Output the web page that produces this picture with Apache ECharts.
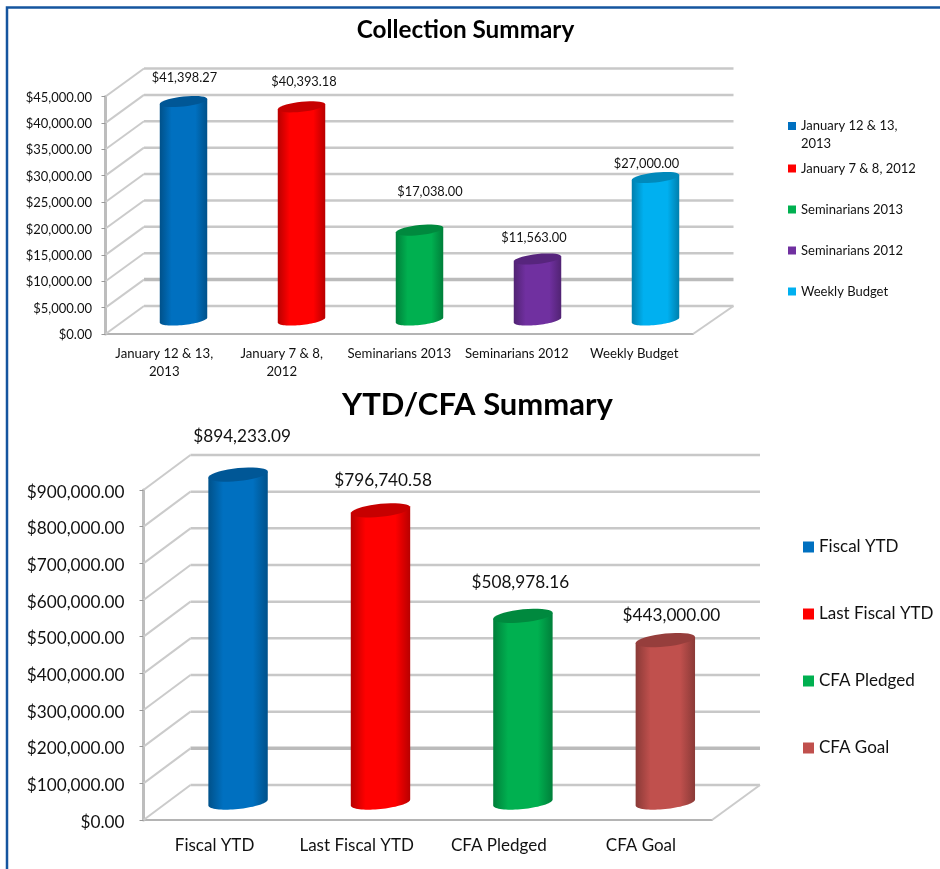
<!DOCTYPE html>
<html>
<head>
<meta charset="utf-8">
<title>Collection Summary</title>
<script src="https://cdn.jsdelivr.net/npm/echarts@6/dist/echarts.min.js"></script>
<style>
    html, body { margin: 0; padding: 0; background: #fff; }
    #main { width: 940px; height: 869px; }
</style>
</head>
<body>
<div id="main"></div>
<script>
// data
const collectionNames = ['January 12 & 13,\n2013', 'January 7 & 8,\n2012', 'Seminarians 2013', 'Seminarians 2012', 'Weekly Budget'];
const collectionLegend = ['January 12 & 13,\n2013', 'January 7 & 8, 2012', 'Seminarians 2013', 'Seminarians 2012', 'Weekly Budget'];
const collectionValues = [41398.27, 40393.18, 17038, 11563, 27000];
const collectionColors = ['#0070c0', '#ff0000', '#00b050', '#7030a0', '#00b0f0'];
const collectionTicks = [0, 5000, 10000, 15000, 20000, 25000, 30000, 35000, 40000, 45000];

const ytdNames = ['Fiscal YTD', 'Last Fiscal YTD', 'CFA Pledged', 'CFA Goal'];
const ytdValues = [894233.09, 796740.58, 508978.16, 443000];
const ytdColors = ['#0070c0', '#ff0000', '#00b050', '#c0504d'];
const ytdTicks = [0, 100000, 200000, 300000, 400000, 500000, 600000, 700000, 800000, 900000];

// the data labels were placed by hand in the original, offset from the bar top
const collectionLabelNudge = [[1, -24], [3, -25], [11.5, -38], [-2, -21], [-7, -14]];
const ytdLabelNudge = [[4, -38.5], [3, -29.5], [-2, -33.5], [7, -24.5]];

const FONT = 'Lato, "Open Sans", sans-serif';

const money = (v) => '$' + v.toLocaleString('en-US', { minimumFractionDigits: 2, maximumFractionDigits: 2 });

// echarts.color.lift only goes lighter, so darken by hand
function shade(color, factor) {
    const c = echarts.color.parse(color);
    return 'rgb(' + Math.round(c[0] * factor) + ',' + Math.round(c[1] * factor) + ',' + Math.round(c[2] * factor) + ')';
}

// per-chart look of the fake 3D box
const collectionBox = { dx: 38.5, dy: -28, backRight: 2, spread: 0.5, ratio: 0.404, b: 5, skew: 2.5, fontSize: 12.8, heavy: 5000 };
const ytdBox = { dx: 47, dy: -35, backRight: 1, spread: 0.3, ratio: 0.418, b: 6.5, skew: 3, fontSize: 17.2, heavy: 100000 };

// back wall, side wall and floor
function wallSeries(axisIndex, ticks, box) {
    return {
        type: 'custom',
        xAxisIndex: axisIndex,
        yAxisIndex: axisIndex,
        silent: true,
        z: 1,
        data: ticks.map((t) => [0, t]),
        renderItem: function (params, api) {
            const v = api.value(1);
            const y = api.coord([0, v])[1];
            const grid = params.coordSys;
            const left = grid.x;
            const right = grid.x + grid.width;
            const heavy = v === box.heavy;
            const children = [
                {
                    type: 'line',
                    shape: { x1: left + box.dx, y1: y + box.dy, x2: right + box.dx + box.backRight, y2: y + box.dy },
                    style: { stroke: heavy ? '#bbbbbb' : '#c8c8c8', lineWidth: heavy ? 3.5 : 2.5 }
                },
                {
                    type: 'line',
                    shape: { x1: left, y1: y, x2: left + box.dx, y2: y + box.dy },
                    style: { stroke: '#cbcbcb', lineWidth: 2 }
                }
            ];
            if (v === 0) {
                children.push({
                    type: 'line',
                    shape: { x1: right, y1: y, x2: right + box.dx + box.backRight, y2: y + box.dy },
                    style: { stroke: '#cbcbcb', lineWidth: 2 }
                });
            }
            return { type: 'group', children: children };
        }
    };
}

function ellipsePoints(cx, cy, a, box, from, to) {
    const pts = [];
    const steps = 36;
    for (let i = 0; i <= steps; i++) {
        const t = from + (to - from) * i / steps;
        pts.push([cx + a * Math.cos(t), cy + box.b * Math.sin(t) - box.skew * Math.cos(t)]);
    }
    return pts;
}

// one custom series per bar, so the legend gets one entry per bar
function cylinderSeries(axisIndex, i, name, value, color, nudge, box) {
    const edge = shade(color, 0.72);
    const cap = shade(color, 0.78);
    return {
        name: name,
        type: 'custom',
        xAxisIndex: axisIndex,
        yAxisIndex: axisIndex,
        z: 3,
        itemStyle: { color: color },
        data: [[i, value]],
        renderItem: function (params, api) {
            const top = api.coord([api.value(0), api.value(1)]);
            const base = api.coord([api.value(0), 0]);
            const a = api.size([1, 0])[0] * box.ratio / 2;
            const cx = top[0] + box.dx / 2 + api.value(0) * box.spread;
            const topY = top[1] + box.dy / 2;
            const baseY = base[1] + box.dy / 2;
            // right edge of the base, round the front, back to the left edge
            const lower = ellipsePoints(cx, baseY, a, box, 0, Math.PI);
            const body = [[cx - a, topY + box.skew], [cx + a, topY - box.skew]].concat(lower);
            return {
                type: 'group',
                children: [
                    {
                        type: 'polygon',
                        shape: { points: body },
                        style: {
                            fill: {
                                type: 'linear', x: 0, y: 0, x2: 1, y2: 0,
                                colorStops: [
                                    { offset: 0, color: edge },
                                    { offset: 0.25, color: color },
                                    { offset: 0.75, color: color },
                                    { offset: 1, color: edge }
                                ]
                            }
                        }
                    },
                    {
                        type: 'polygon',
                        shape: { points: ellipsePoints(cx, topY, a, box, 0, Math.PI * 2) },
                        style: { fill: cap }
                    },
                    {
                        type: 'text',
                        style: {
                            text: money(api.value(1)),
                            x: cx - api.value(0) * box.spread + nudge[0],
                            y: topY + nudge[1],
                            align: 'center',
                            verticalAlign: 'middle',
                            fill: '#111',
                            font: box.fontSize + 'px ' + FONT
                        }
                    }
                ]
            };
        }
    };
}

const series = [wallSeries(0, collectionTicks, collectionBox), wallSeries(1, ytdTicks, ytdBox)];
collectionValues.forEach((v, i) => {
    series.push(cylinderSeries(0, i, collectionLegend[i], v, collectionColors[i], collectionLabelNudge[i], collectionBox));
});
ytdValues.forEach((v, i) => {
    series.push(cylinderSeries(1, i, ytdNames[i], v, ytdColors[i], ytdLabelNudge[i], ytdBox));
});

function xAxis(gridIndex, names, fontSize, margin, lineHeight) {
    return {
        type: 'category',
        gridIndex: gridIndex,
        data: names,
        axisLine: { lineStyle: { color: '#b4b4b4', width: 2 } },
        axisTick: { length: 4, lineStyle: { color: '#999' } },
        axisLabel: { interval: 0, color: '#111', fontFamily: FONT, fontSize: fontSize, margin: margin, lineHeight: lineHeight },
        splitLine: { show: false }
    };
}

function yAxis(gridIndex, ticks, fontSize, margin, padTop) {
    return {
        type: 'value',
        gridIndex: gridIndex,
        min: ticks[0],
        max: ticks[ticks.length - 1],
        interval: ticks[1] - ticks[0],
        axisLine: { show: true, lineStyle: { color: '#bdbdbd', width: 3 } },
        axisTick: { show: true, length: 4, lineStyle: { color: '#999' } },
        axisLabel: {
            margin: margin,
            formatter: (v) => '{v|' + money(v) + '}',
            // rich padding drops the label a little below its tick, as in the original
            rich: { v: { color: '#111', fontFamily: FONT, fontSize: fontSize, padding: [padTop, 0, 0, 0] } }
        },
        splitLine: { show: false }
    };
}

const legendIcon = 'rect';

const option = {
    animation: false,
    backgroundColor: '#fff',
    textStyle: { fontFamily: FONT },
    title: [
        {
            text: 'Collection Summary', left: 465.5, top: 30, padding: 0, textAlign: 'center', textVerticalAlign: 'middle',
            textStyle: { fontFamily: FONT, fontSize: 24.3, fontWeight: 'bold', color: '#000' }
        },
        {
            text: 'YTD/CFA Summary', left: 477.5, top: 405, padding: 0, textAlign: 'center', textVerticalAlign: 'middle',
            textStyle: { fontFamily: FONT, fontSize: 31, fontWeight: 'bold', color: '#000' }
        }
    ],
    grid: [
        { left: 105.5, top: 96.5, width: 587.5, height: 237.5 },
        { left: 143.5, top: 490, width: 568.5, height: 330 }
    ],
    xAxis: [
        xAxis(0, collectionNames, 13.2, 11, 18),
        xAxis(1, ytdNames, 17, 16, 20)
    ],
    yAxis: [
        yAxis(0, collectionTicks, 13, 13.5, 2),
        yAxis(1, ytdTicks, 17.2, 19, 4)
    ],
    legend: [
        // the first entry wraps and its swatch sits on the first line: a blank line on top centres it there
        {
            data: [collectionLegend[0]], left: 788, top: 99, orient: 'vertical', icon: legendIcon,
            itemWidth: 8, itemHeight: 8, padding: 0, selectedMode: false,
            formatter: (name) => '\n' + name,
            textStyle: { fontFamily: FONT, fontSize: 13, color: '#111', lineHeight: 18 }
        },
        {
            data: collectionLegend.slice(1), left: 788, top: 159.5, orient: 'vertical', icon: legendIcon,
            itemWidth: 8, itemHeight: 8, itemGap: 23, padding: 0, selectedMode: false,
            textStyle: { fontFamily: FONT, fontSize: 13, color: '#111', lineHeight: 18 }
        },
        {
            data: ytdNames, left: 803, top: 537, orient: 'vertical', icon: legendIcon,
            itemWidth: 11, itemHeight: 11, itemGap: 47, padding: 0, selectedMode: false,
            textStyle: { fontFamily: FONT, fontSize: 17, color: '#111', lineHeight: 20 }
        }
    ],
    series: series,
    // frame round the page
    graphic: [{
        type: 'polyline',
        silent: true,
        shape: { points: [[7, 869], [7, 7.5], [940, 7.5]] },
        style: { stroke: '#15559f', lineWidth: 2.5, fill: 'none' }
    }]
};

const chart = echarts.init(document.getElementById('main'));
chart.setOption(option);
</script>
</body>
</html>
